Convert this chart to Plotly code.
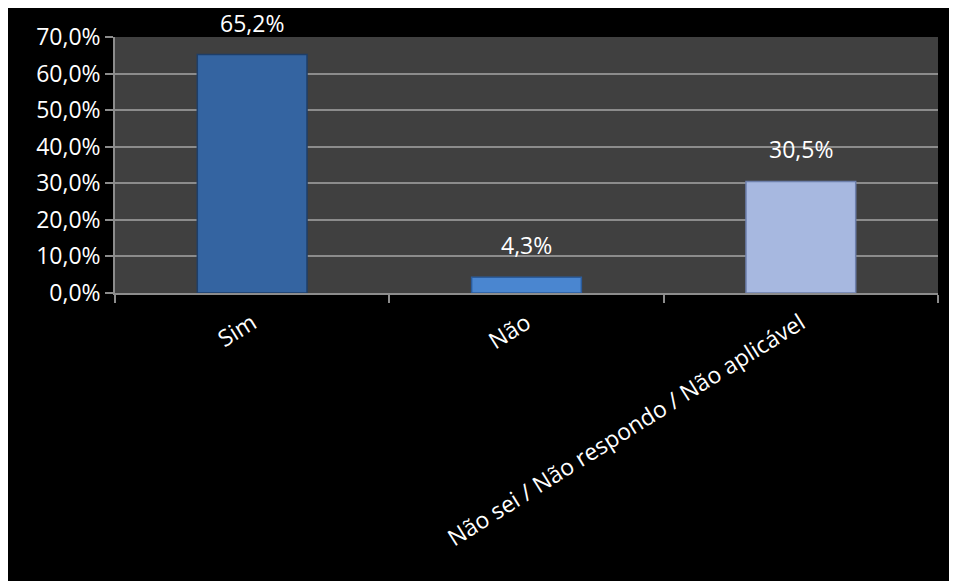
import plotly.graph_objects as go

categories = ["Sim", "Não", "Não sei / Não respondo / Não aplicável"]
values = [0.652, 0.043, 0.305]
value_labels = ["65,2%", "4,3%", "30,5%"]
bar_colors = ["#3464a1", "#4a86d0", "#a7b8e0"]
bar_edges = ["#1e3e68", "#2b5c9c", "#6d7fab"]
y_ticks = [0, 0.1, 0.2, 0.3, 0.4, 0.5, 0.6, 0.7]

FONT = "Open Sans"
GRAY = "#8c8c8c"
FS = 23

fig = go.Figure()
fig.add_trace(go.Bar(
    x=categories, y=values, width=0.4,
    marker=dict(color=bar_colors, line=dict(color=bar_edges, width=1.5)),
    hoverinfo="skip",
))

for c, v, t in zip(categories, values, value_labels):
    fig.add_annotation(x=c, y=v, text=t, showarrow=False, yanchor="bottom",
                       yshift=14, font=dict(family=FONT, size=FS, color="white"))

fig.update_layout(
    width=949, height=573,
    margin=dict(l=107, r=19, t=29, b=288),
    paper_bgcolor="black", plot_bgcolor="#404040",
    separators=",.",
    showlegend=False,
    font=dict(family=FONT, size=FS, color="white"),
)
fig.update_xaxes(
    type="category", tickson="boundaries", ticks="outside", ticklen=8,
    tickcolor=GRAY, tickwidth=1.5, showline=True, linecolor=GRAY, linewidth=1.5,
    showgrid=False, tickangle=-32, ticklabelstandoff=6,
    tickfont=dict(family=FONT, size=FS, color="white"),
)
fig.update_yaxes(
    range=[0, 0.7], tickvals=y_ticks, tickformat=".1%", ticksuffix="\u00a0\u00a0",
    ticks="outside", ticklen=8,
    tickcolor=GRAY, tickwidth=1.5, showline=True, linecolor=GRAY, linewidth=1.5,
    gridcolor=GRAY, gridwidth=1.5, zeroline=False,
    tickfont=dict(family=FONT, size=FS, color="white"),
)

fig.write_html(
    "out.html",
    post_script="document.documentElement.style.overflow='hidden';"
                "document.body.style.overflow='hidden';",
)
